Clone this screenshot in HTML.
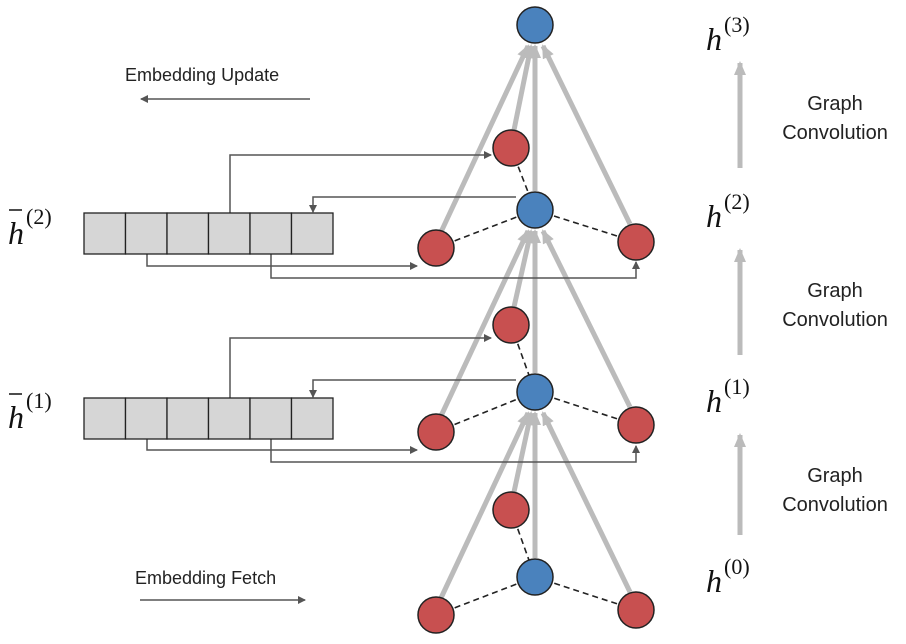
<!DOCTYPE html>
<html><head><style>body{margin:0;background:#fff}</style></head><body>
<svg width="906" height="639" xmlns="http://www.w3.org/2000/svg" font-family="Liberation Sans, sans-serif">
<defs>
<marker id="a" markerWidth="8" markerHeight="8" refX="7" refY="4" orient="auto" markerUnits="userSpaceOnUse"><path d="M0,0 L8,4 L0,8z" fill="#555"/></marker>
<marker id="g" markerWidth="14" markerHeight="12" refX="12" refY="6" orient="auto" markerUnits="userSpaceOnUse"><path d="M0,0 L14,6 L0,12z" fill="#bbb"/></marker>
</defs>
<g stroke="#bbb" stroke-width="5" fill="none" marker-end="url(#g)">
<line x1="441" y1="232" x2="528" y2="46"/><line x1="514" y1="130" x2="531" y2="46"/><line x1="535" y1="191" x2="535" y2="46"/><line x1="630" y1="224" x2="543" y2="46"/>
<line x1="441" y1="416" x2="528" y2="231"/><line x1="514" y1="307" x2="531" y2="231"/><line x1="535" y1="373" x2="535" y2="231"/><line x1="630" y1="407" x2="543" y2="231"/>
<line x1="441" y1="598" x2="528" y2="413"/><line x1="514" y1="492" x2="531" y2="413"/><line x1="535" y1="558" x2="535" y2="413"/><line x1="630" y1="592" x2="543" y2="413"/>
<line x1="740" y1="168" x2="740" y2="63"/><line x1="740" y1="355" x2="740" y2="250"/><line x1="740" y1="535" x2="740" y2="435"/>
</g>
<g stroke="#222" stroke-width="1.6" stroke-dasharray="6,4">
<line x1="436" y1="248" x2="535" y2="210"/><line x1="636" y1="242" x2="535" y2="210"/><line x1="511" y1="148" x2="535" y2="210"/>
<line x1="436" y1="432" x2="535" y2="392"/><line x1="636" y1="425" x2="535" y2="392"/><line x1="511" y1="325" x2="535" y2="392"/>
<line x1="436" y1="615" x2="535" y2="577"/><line x1="636" y1="610" x2="535" y2="577"/><line x1="511" y1="510" x2="535" y2="577"/>
</g>
<g stroke="#555" stroke-width="1.5" fill="none" marker-end="url(#a)">
<polyline points="230,213 230,155 491,155"/><polyline points="516,197 313,197 313,212"/><polyline points="147,254 147,266 417,266"/><polyline points="271,254 271,278 636,278 636,262"/>
<polyline points="230,398 230,338 491,338"/><polyline points="516,380 313,380 313,397"/><polyline points="147,439 147,450 417,450"/><polyline points="271,439 271,462 636,462 636,446"/>
<line x1="310" y1="99" x2="141" y2="99"/><line x1="140" y1="600" x2="305" y2="600"/>
</g>
<g stroke="#222" stroke-width="1.5">
<g fill="#4a82bd"><circle cx="535" cy="25" r="18"/><circle cx="535" cy="210" r="18"/><circle cx="535" cy="392" r="18"/><circle cx="535" cy="577" r="18"/></g>
<g fill="#c85050"><circle cx="511" cy="148" r="18"/><circle cx="436" cy="248" r="18"/><circle cx="636" cy="242" r="18"/>
<circle cx="511" cy="325" r="18"/><circle cx="436" cy="432" r="18"/><circle cx="636" cy="425" r="18"/>
<circle cx="511" cy="510" r="18"/><circle cx="436" cy="615" r="18"/><circle cx="636" cy="610" r="18"/></g>
<g fill="#d6d6d6" stroke-width="1.3">
<rect x="84" y="213" width="41.5" height="41"/><rect x="125.5" y="213" width="41.5" height="41"/><rect x="167" y="213" width="41.5" height="41"/><rect x="208.5" y="213" width="41.5" height="41"/><rect x="250" y="213" width="41.5" height="41"/><rect x="291.5" y="213" width="41.5" height="41"/>
<rect x="84" y="398" width="41.5" height="41"/><rect x="125.5" y="398" width="41.5" height="41"/><rect x="167" y="398" width="41.5" height="41"/><rect x="208.5" y="398" width="41.5" height="41"/><rect x="250" y="398" width="41.5" height="41"/><rect x="291.5" y="398" width="41.5" height="41"/>
</g></g>
<g fill="#222" font-size="18">
<text x="125" y="81">Embedding Update</text><text x="135" y="584">Embedding Fetch</text>
<g text-anchor="middle" font-size="20"><text x="835" y="110">Graph</text><text x="835" y="139">Convolution</text>
<text x="835" y="297">Graph</text><text x="835" y="326">Convolution</text>
<text x="835" y="482">Graph</text><text x="835" y="511">Convolution</text></g>
</g>
<g fill="#111" font-family="Liberation Serif, serif">
<text x="706" y="50" font-size="32" font-style="italic">h</text><text x="724" y="32" font-size="22">(3)</text>
<text x="706" y="227" font-size="32" font-style="italic">h</text><text x="724" y="209" font-size="22">(2)</text>
<text x="706" y="412" font-size="32" font-style="italic">h</text><text x="724" y="394" font-size="22">(1)</text>
<text x="706" y="592" font-size="32" font-style="italic">h</text><text x="724" y="574" font-size="22">(0)</text>
<text x="8" y="244" font-size="32" font-style="italic">h</text><line x1="9" y1="210" x2="22" y2="210" stroke="#111" stroke-width="1.5"/><text x="26" y="224" font-size="22">(2)</text>
<text x="8" y="428" font-size="32" font-style="italic">h</text><line x1="9" y1="394" x2="22" y2="394" stroke="#111" stroke-width="1.5"/><text x="26" y="408" font-size="22">(1)</text>
</g>
</svg>
</body></html>
